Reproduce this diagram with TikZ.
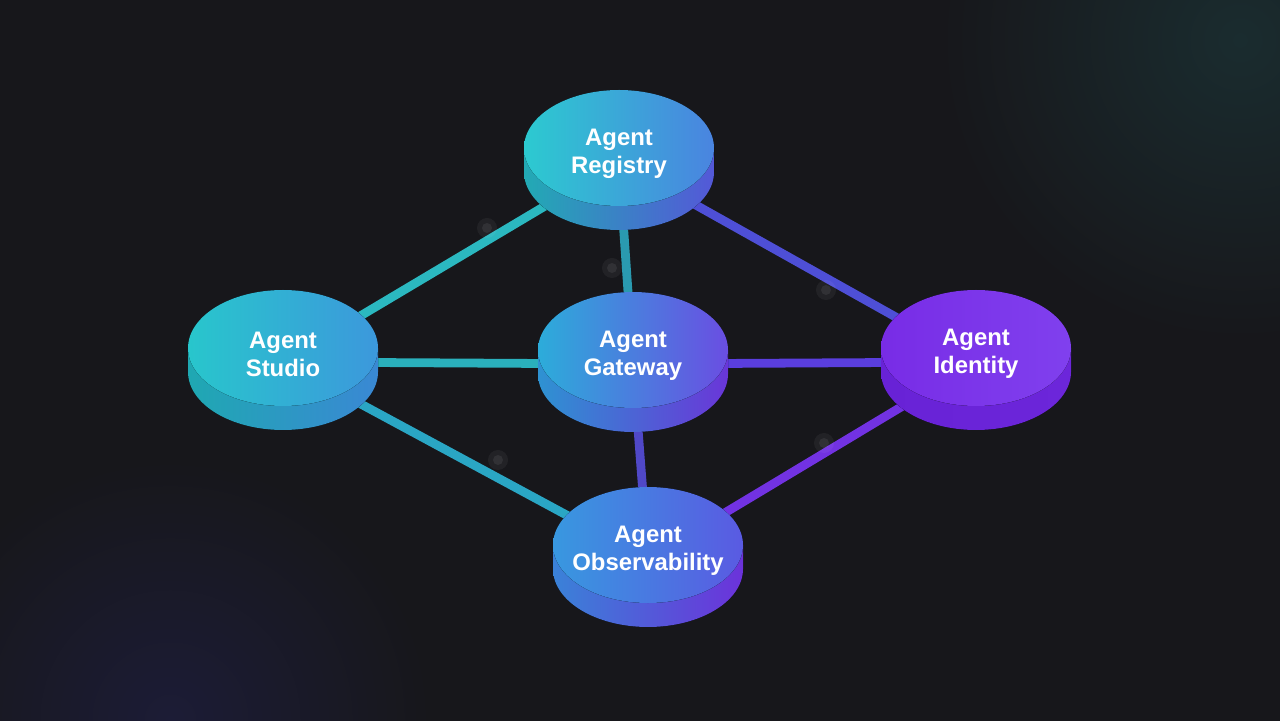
\documentclass[tikz,border=0pt]{standalone}
\usepackage{fontspec}
\setmainfont{Liberation Sans}
\pgfdeclarelayer{back}
\pgfdeclarelayer{links}
\pgfsetlayers{back,links,main}
\definecolor{bgcol}{HTML}{17171B}
\definecolor{glowteal}{HTML}{1A2C2F}
\definecolor{glowblue}{HTML}{1C1C36}

\begin{document}
\begin{tikzpicture}[x=0.02cm,y=0.02cm,
  agent/.style={text=white,font=\bfseries\fontsize{13.6}{16}\selectfont,align=center,inner sep=1pt},
  link/.style={line width=5pt}]
  \useasboundingbox (0,0) rectangle (1280,720);
  \begin{pgfonlayer}{back}
    \begin{scope}
      \clip (-10,-10) rectangle (1290,730);
      \fill[bgcol] (-10,-10) rectangle (1290,730);
      \shade[inner color=glowteal,outer color=bgcol] (1240,680) circle (300);
      \shade[inner color=glowblue,outer color=bgcol] (170,0) circle (260);
    \end{scope}
  \end{pgfonlayer}

  \foreach \nm/\x/\y/\fa/\fm/\fb/\sa/\sb/\txt in {
    reg/619/572/2CCAD0/2EC2D2/4A84E0/22AAB4/5458D8/{Agent\\Registry},
    stu/283/372/28C6CC/2CBED2/3C98DC/1FA8B2/3A88D4/{Agent\\Studio},
    gw/633/370/2CACDA/3C8EE0/6A4EE2/2E92D2/6A36D8/{Agent\\Gateway},
    idn/976/372/782CE6/7A30E8/8040EE/6822D6/6C26DA/{Agent\\Identity},
    obs/648/175/3898E0/4284E0/5A5AE2/3A82D8/6C32DA/{Agent\\Observability}}{
    \definecolor{faceL}{HTML}{\fa}\definecolor{faceM}{HTML}{\fm}\definecolor{faceR}{HTML}{\fb}
    \definecolor{sideL}{HTML}{\sa}\definecolor{sideR}{HTML}{\sb}
    \fill[left color=sideL,right color=sideR] (\x-95,\y) -- (\x-95,\y-24)
      arc[start angle=180,end angle=360,x radius=95,y radius=58] -- (\x+95,\y) -- cycle;
    \fill[left color=faceL,middle color=faceM,right color=faceR] (\x,\y) ellipse[x radius=95,y radius=58];
    \node[agent] (\nm) at (\x,\y-6) {\txt};
  }

  \begin{pgfonlayer}{links}
    \foreach \a/\b/\col in {stu/reg/2BB8C0,reg/gw/2A9AB0,reg/idn/4E4FD6,stu/gw/2AB0BC,
      gw/idn/5A3EDE,stu/obs/2AA6C4,gw/obs/5048C8,idn/obs/7232E2}{
      \definecolor{linkcol}{HTML}{\col}
      \draw[link,linkcol] ([yshift=-0.16cm]\a.center) -- ([yshift=-0.16cm]\b.center);
    }
    \foreach \px/\py in {487/492,612/452,826/430,498/260,824/277}{
      \fill[white,opacity=0.05] (\px,\py) circle (10);
      \fill[white,opacity=0.07] (\px,\py) circle (5);
    }
  \end{pgfonlayer}
\end{tikzpicture}
\end{document}
